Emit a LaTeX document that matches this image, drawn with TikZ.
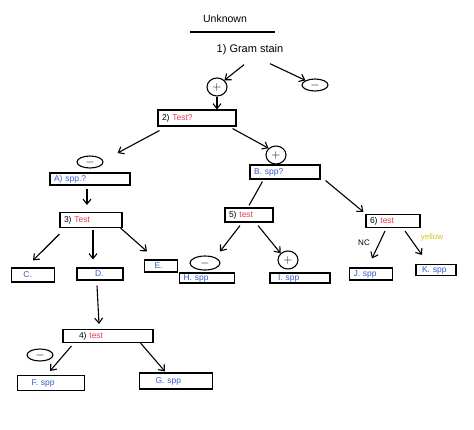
\documentclass[tikz,border=0pt]{standalone}
\usepackage{fontspec}
\setmainfont{Liberation Sans}
\usetikzlibrary{arrows.meta,calc,shapes.geometric}
\definecolor{hred}{RGB}{228,62,72}
\definecolor{hblue}{RGB}{52,92,200}
\definecolor{hyel}{RGB}{205,195,30}
\tikzset{
  bx/.style={draw, line width=1.1pt, inner xsep=4pt, inner ysep=0pt, align=left, font=\fontsize{8.5}{9}\selectfont},
  sgn/.style={draw, ellipse, line width=1.1pt, inner sep=0pt, font=\fontsize{12}{12}\selectfont},
  arr/.style={line width=1.1pt, -{Straight Barb[length=5pt,width=8pt]}},
  ln/.style={line width=1.1pt},
  lab/.style={font=\fontsize{8}{9}\selectfont},
}
\newcommand{\bxn}[5]{\node[bx, text width=#4pt-8pt, minimum height=#5pt] (#1) at (#2) {#3};}
\begin{document}
\begin{tikzpicture}[x=1pt,y=-1pt]
\useasboundingbox (0,0) rectangle (474,429);
% title
\node[font=\fontsize{10.5}{11}\selectfont] (unk) at (225,19) {Unknown};
\coordinate (ul1) at (190,32);
\coordinate (ul2) at (275,32);
\draw[ln] (ul1) -- (ul2);
\node[font=\fontsize{11}{12}\selectfont] (gram) at (250,50) {1) Gram stain};
% signs
\node[sgn, minimum width=20pt, minimum height=18pt] (p1) at (217,87) {$+$};
\node[sgn, minimum width=26pt, minimum height=12pt] (m1) at (315,85) {$-$};
\node[sgn, minimum width=26pt, minimum height=12pt] (m2) at (90,162) {$-$};
\node[sgn, minimum width=20pt, minimum height=18pt] (p2) at (276,155) {$+$};
\node[sgn, minimum width=30pt, minimum height=14pt] (m3) at (205,263) {$-$};
\node[sgn, minimum width=20pt, minimum height=18pt] (p3) at (288,260) {$+$};
\node[sgn, minimum width=26pt, minimum height=12pt] (m4) at (40,355) {$-$};
% boxes
\bxn{t2}{197,118}{2) \textcolor{hred}{Test?}}{78}{16}
\bxn{A}{90,179}{\textcolor{hblue}{A) spp.?}}{80}{12}
\bxn{t3}{91,220}{3) \textcolor{hred}{Test}}{62}{15}
\bxn{C}{33,275}{\hspace{8pt}\textcolor{hblue}{C.}}{43}{14}
\bxn{D}{100,274}{\hspace{14pt}\textcolor{hblue}{D.}}{46}{12}
\bxn{E}{161,266}{\hspace{6pt}\textcolor{hblue}{E.}}{33}{12}
\bxn{t4}{108,336}{\hspace{12pt}4) \textcolor{hred}{test}}{90}{13}
\bxn{F}{51,383}{\hspace{10pt}\textcolor{hblue}{F. spp}}{67}{15}
\bxn{G}{176,381}{\hspace{12pt}\textcolor{hblue}{G. spp}}{73}{16}
\bxn{B}{285,172}{\textcolor{hblue}{B. spp?}}{70}{14}
\bxn{t5}{249,215}{5) \textcolor{hred}{test}}{48}{14}
\bxn{t6}{393,221}{6) \textcolor{hred}{test}}{54}{13}
\bxn{H}{207,278}{\textcolor{hblue}{H. spp}}{55}{10}
\bxn{I}{300,278}{\hspace{4pt}\textcolor{hblue}{I. spp}}{60}{10}
\bxn{J}{371,274}{\textcolor{hblue}{J. spp}}{43}{12}
\bxn{K}{436,270}{\hspace{2pt}\textcolor{hblue}{K. spp}}{40}{11}
% labels
\node[lab] (nc) at (364,243) {NC};
\node[lab, text=hyel] (yel) at (432,237) {yellow};
% connectors
\draw[arr] ($(gram.south)+(-6,6)$) -- (p1.north east);
\draw[arr] ($(gram.south)+(20,5)$) -- (m1.north west);
\draw[arr] (p1.south) -- ($(t2.north)+(20,0)$);
\draw[arr] ($(t2.south west)+(2,4)$) -- ($(m2.east)+(14,-9)$);
\draw[arr] ($(t2.south east)+(-4,2)$) -- (p2.north west);
\draw[arr] ($(A.south)+(-3,3)$) -- ($(t3.north)+(-4,-7)$);
\draw[arr] ($(t3.south west)+(0,6)$) -- ($(C.north)+(0,-7)$);
\draw[arr] ($(t3.south)+(2,2)$) -- ($(D.north)+(-7,-8)$);
\draw[arr] ($(t3.south east)+(-2,0)$) -- ($(E.north)+(-14,-8)$);
\draw[arr] ($(D.south)+(-3,5)$) -- ($(t4.north)+(-9,-5)$);
\draw[arr] ($(t4.south west)+(9,3)$) -- ($(F.north)+(-1,-4)$);
\draw[arr] ($(t4.south east)+(-13,0)$) -- ($(G.north)+(-11,-1)$);
\draw[ln] ($(B.south west)+(13,2)$) -- ($(t5.north)+(0,-2)$);
\draw[arr] ($(B.south east)+(5,1)$) -- ($(t6.north west)+(-2,-2)$);
\draw[arr] ($(t5.south)+(-9,3)$) -- ($(m3.north)+(15,-4)$);
\draw[arr] ($(t5.south)+(9,3)$) -- (p3.north west);
\draw[arr] ($(t6.south)+(-8,3)$) -- ($(J.north)+(1,-9)$);
\draw[arr] ($(t6.south)+(12,3)$) -- ($(K.north)+(-14,-9)$);
\end{tikzpicture}
\end{document}
